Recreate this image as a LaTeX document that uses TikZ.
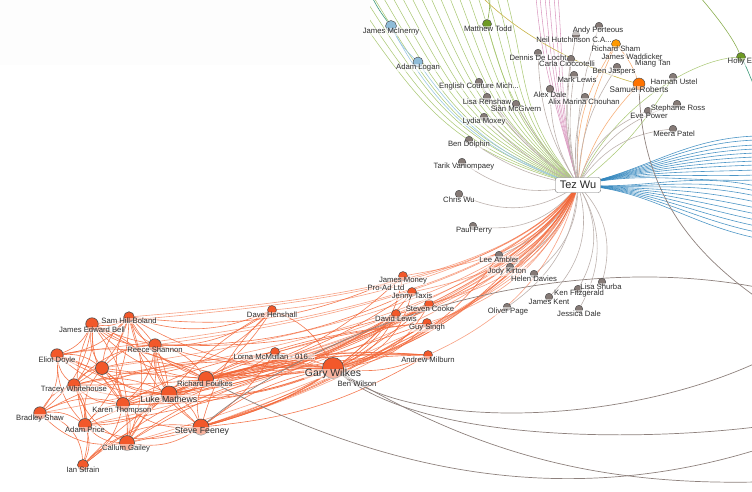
\documentclass[tikz,border=0pt]{standalone}
\usepackage{fontspec}
\setsansfont{Liberation Sans}
\pgfdeclarelayer{bg}
\pgfsetlayers{bg,main}
\definecolor{orn}{HTML}{F2582A}
\definecolor{oedge}{HTML}{F26536}
\definecolor{gedge}{HTML}{A3C46A}
\definecolor{bedge}{HTML}{2F84BC}
\definecolor{lbedge}{HTML}{9CC8E2}
\definecolor{gryedge}{HTML}{BDB2AE}
\definecolor{dgry}{HTML}{8E817D}
\definecolor{pedge}{HTML}{DB9CC2}
\definecolor{lorn}{HTML}{F7B07A}
\definecolor{gfill}{HTML}{857A76}
\definecolor{olv}{HTML}{C9B448}
\definecolor{grn}{HTML}{6E9A24}
\definecolor{teal}{HTML}{3F9A7A}
\definecolor{bfill}{HTML}{8FBCD8}
\begin{document}
\begin{tikzpicture}[x=1pt,y=-1pt,
 lbl/.style={font=\sffamily\fontsize{7.7}{8}\selectfont, text=black!82, fill=white, fill opacity=0.55, text opacity=1, inner sep=0.5pt},
 lblb/.style={lbl, font=\sffamily\fontsize{8.8}{9}\selectfont},
 gn/.style={circle, inner sep=0, minimum size=7.5pt, draw=black!70, line width=0.45pt, fill=gfill},
 on/.style={gn, fill=orn, minimum size=9pt},
 cn/.style={gn, fill=orn, minimum size=12.5pt, line width=0.6pt},
 oe/.style={draw=oedge, line width=0.62pt, opacity=0.85},
 ge/.style={draw=gedge, line width=0.55pt, opacity=0.9},
 be/.style={draw=bedge, line width=0.6pt, opacity=0.85},
 lbe/.style={draw=lbedge, line width=0.6pt},
 ye/.style={draw=gryedge, line width=0.6pt},
 de/.style={draw=dgry, line width=0.7pt},
 pe/.style={draw=pedge, line width=0.55pt},
 le/.style={draw=lorn, line width=0.6pt},
]
\useasboundingbox (0,0) rectangle (752,491);
\clip (0,0) rectangle (752,491);
\fill[black!0.8] (0,0) rectangle (370,65);

% ---------- node circles ----------
\node[gn] (dl) at (538,53) {};
\node[gn] (ecm) at (479,82) {};
\node[gn] (lr) at (487,97) {};
\node[gn] (smg) at (516,104) {};
\node[gn] (lmx) at (484,117) {};
\node[gn] (bd) at (469,140) {};
\node[gn] (ap2) at (599,26) {};
\node[gn] (nh) at (576,35) {};
\node[gn] (cc) at (571,59) {};
\node[gn] (bj) at (617,67) {};
\node[gn] (mlw) at (574,75) {};
\node[gn] (ad) at (550,89) {};
\node[gn] (amc) at (585,97) {};
\node[gn] (hu) at (673,77) {};
\node[gn] (sr) at (677,104) {};
\node[gn] (ep) at (648,111) {};
\node[gn] (mp) at (673,129) {};
\node[gn] (tv) at (462,162) {};
\node[gn] (cw) at (459,194) {};
\node[gn] (pp) at (473,226) {};
\node[gn] (la) at (499,255) {};
\node[gn] (jk) at (510,267) {};
\node[gn] (hd) at (534,274) {};
\node[gn] (ls) at (602,282) {};
\node[gn] (kf) at (578,289) {};
\node[gn] (jke) at (549,297) {};
\node[gn] (op) at (507,307) {};
\node[gn] (jd) at (579,309) {};
\node[gn, fill=bfill, minimum size=11pt] (jmc) at (391,26) {};
\node[gn, fill=bfill, minimum size=10pt] (alg) at (418,62) {};
\node[gn, fill=grn, minimum size=9pt] (mt) at (487,24) {};
\node[gn, fill=grn, minimum size=9pt] (he) at (741,57) {};
\node[gn, fill=orange!80!yellow, minimum size=9pt] (rsh) at (616,44) {};
\node[gn, fill=orange!90!red, minimum size=12pt] (srb) at (639,84) {};
\node[on] (jmo) at (403,276) {};
\node[on] (jt) at (412,292) {};
\node[on] (sc) at (429,304) {};
\node[on] (dlw) at (396,314) {};
\node[on] (gs) at (427,323) {};
\node[on] (am) at (428,355) {};
\node[on] (dh) at (272,310) {};
\node[on] (lmm) at (275,352) {};
\node[cn, minimum size=21pt] (gw) at (333,368) {};
\node[cn, minimum size=10.5pt] (shb) at (129,317) {};
\node[cn] (jeb) at (92,324) {};
\node[cn] (rsn) at (155,345) {};
\node[cn] (edy) at (57,355) {};
\node[cn, minimum size=13pt] (unk) at (102,368) {};
\node[cn] (twh) at (74,385) {};
\node[cn, minimum size=15pt] (rf) at (206,379) {};
\node[cn, minimum size=16pt] (lmt) at (169,394) {};
\node[cn, minimum size=13pt] (kt) at (123,404) {};
\node[cn] (bs) at (40,413) {};
\node[cn, minimum size=13pt] (apr) at (85,425) {};
\node[cn, minimum size=16pt] (sf) at (201,427) {};
\node[cn, minimum size=15pt] (cg) at (127,443) {};
\node[cn, minimum size=11pt] (ist) at (83,465) {};
\node[draw=black!55, fill=white, rounded corners=2.5pt, font=\sffamily\fontsize{11}{12}\selectfont, text=black!85, inner xsep=4.5pt, inner ysep=1.5pt, minimum height=15pt] (tez) at (578,185) {Tez Wu};

% ---------- edges ----------
\begin{pgfonlayer}{bg}
% green from top
\foreach \k in {0,...,17} {
  \pgfmathsetmacro\xx{345+\k*9.5}
  \pgfmathsetmacro\oo{-55-\k*1.2}
  \pgfmathsetmacro\ii{165-\k*2}
  \coordinate (gt\k) at (\xx,-3);
  \draw[ge] (gt\k) to[out=\oo, in=\ii, looseness=1.15] (tez.center);
}
\coordinate (gtm) at (490,-3);
\draw[ge, draw=grn] (gtm) to[bend left=5] (mt);
\draw[ge] (mt) to[bend right=15] (tez.center);
% pink from top
\foreach \x in {536,540,545,549,554,558} {
  \coordinate (pk\x) at (\x,-3);
  \draw[pe] (pk\x) to[out=-85, in=105] (tez.center);
}
% light blue / teal
\coordinate (jtop) at (372,-3);
\draw[draw=teal, line width=0.6pt] (jtop) to[bend right=5] (jmc);
\draw[lbe] (jmc) to[bend right=10] (alg);
\draw[lbe] (alg) to[bend right=18] (tez.center);
\draw[lbe] (jmc) to[bend right=22] (tez.center);
% olive
\coordinate (ot) at (482,-3);
\draw[draw=olv, line width=0.6pt] (ot) .. controls (525,40) and (590,70) .. (srb);
% holly
\coordinate (ht) at (700,-3);
\coordinate (hb) at (758,95);
\draw[draw=grn!80, line width=0.6pt] (ht) .. controls (718,18) and (733,38) .. (he);
\draw[draw=teal, line width=0.6pt] (he) .. controls (748,70) and (752,82) .. (hb);
\draw[ge] (he) .. controls (690,60) and (610,110) .. (tez.center);
% light orange
\draw[le] (rsh) to[bend right=10] (tez.center);
\draw[le] (rsh) to[bend right=18] (tez.center);
\draw[le] (rsh) to[bend left=10] (srb);
\draw[le] (srb) to[bend right=12] (tez.center);
\draw[ge] (hu) to[bend left=10] (tez.center);
% blue to right
\foreach \y in {136,140,145,149,153,157,161,165,170,175,180} {
  \coordinate (bu\y) at (756,\y);
  \draw[be] (tez.center) to[out=12, in=182] (bu\y);
}
\foreach \y in {186,191,196,202,208,214,220,226,232,238} {
  \coordinate (bl\y) at (756,\y);
  \draw[be] (tez.center) to[out=-4, in=168] (bl\y);
}
% gray to tez
\foreach \n/\b in {tv/25, cw/30, pp/30, bd/12, lmx/10, smg/8, ecm/10, lr/10, ad/15, amc/12, dl/15, cc/12, mlw/10, nh/12, ap2/10, bj/15, ep/25, sr/22, mp/25, la/20, jk/20, hd/25, ls/30, kf/30, jke/30, op/25, jd/30}
  \draw[ye] (tez.center) to[bend left=\b] (\n);
% orange fan from tez
\foreach \n/\o/\i/\l in {gw/-112/18/0.8, gw/-118/12/0.8, gw/-105/25/0.9, jmo/-120/10/1, jt/-115/12/1, sc/-108/15/1, dlw/-118/15/1, gs/-110/18/1, am/-105/25/1, dh/-125/5/0.7, lmm/-120/12/0.7, rf/-120/10/0.7, rf/-112/14/0.7, lmt/-118/10/0.7, lmt/-110/16/0.7, sf/-112/15/0.7, sf/-106/20/0.7, kt/-120/10/0.7, cg/-110/16/0.7, rsn/-122/8/0.7, shb/-125/5/0.7, jeb/-125/6/0.7, unk/-120/8/0.7, twh/-118/10/0.7, apr/-115/12/0.7, la/-125/35/1, jk/-118/40/1, edy/-124/8/0.7, bs/-120/10/0.7}
  \draw[oe, opacity=0.6] (tez.center) to[out=\o, in=\i, looseness=\l] (\n);
% cluster mesh
\foreach \a/\b/\d in {shb/jeb/20, shb/rsn/-20, shb/edy/20, shb/unk/-20, shb/twh/20, shb/rf/-20, shb/lmt/20, shb/kt/-20, shb/apr/20, shb/sf/-20, shb/cg/20,
 jeb/rsn/-20, jeb/edy/20, jeb/unk/-20, jeb/twh/20, jeb/rf/-20, jeb/lmt/20, jeb/kt/-20, jeb/bs/20, jeb/apr/-20, jeb/cg/20,
 rsn/unk/-20, rsn/rf/20, rsn/lmt/-20, rsn/kt/20, rsn/sf/-20, rsn/cg/20, rsn/twh/-20,
 edy/unk/20, edy/twh/-20, edy/bs/20, edy/apr/-20, edy/kt/20, edy/lmt/-20, edy/rf/20,
 unk/twh/-20, unk/kt/20, unk/lmt/-20, unk/rf/20, unk/apr/-20, unk/cg/20,
 twh/bs/-20, twh/apr/20, twh/kt/-20, twh/lmt/20, twh/cg/-20, twh/ist/20, twh/rf/-20,
 rf/lmt/20, rf/sf/-20, rf/kt/20, rf/cg/-20,
 lmt/kt/-20, lmt/sf/20, lmt/cg/-20, lmt/apr/20,
 kt/apr/-20, kt/cg/20, kt/sf/-20, kt/ist/20, kt/bs/-20,
 bs/apr/20, bs/cg/-25, bs/ist/35,
 apr/cg/-20, apr/ist/20, apr/sf/-20,
 sf/cg/20, cg/ist/-20, sf/ist/-25}
  \draw[oe] (\a) to[bend left=\d] (\b);
% cluster to middle
\foreach \a/\b/\d in {rf/gw/10, lmt/gw/-12, sf/gw/12, kt/gw/-10, cg/gw/15, rsn/gw/-8, shb/gw/-15, jeb/gw/-20, unk/gw/-8, twh/gw/10, apr/gw/12, ist/gw/25, edy/gw/-25, bs/gw/18,
 rf/dlw/-10, rf/sc/-12, rf/gs/8, rf/am/10, rf/jmo/-15, rf/jt/-10,
 lmt/dlw/-12, lmt/sc/-8, lmt/am/12, lmt/gs/10,
 sf/dlw/-15, sf/sc/-10, sf/gs/-8, sf/am/-12, sf/jt/-18,
 kt/am/10, cg/am/15, cg/gs/-10, rsn/sc/-10, rsn/jt/-12, shb/jmo/-15, kt/sc/-10, apr/dlw/-12, ist/am/20, twh/gs/-10,
 shb/dh/-20, jeb/dh/-30, edy/dh/-35, dh/sf/-15, dh/lmt/-10, dh/rf/10, lmm/rf/-10, lmm/gw/5, lmm/lmt/12, lmm/sf/10, lmm/kt/-10,
 gw/dlw/-20, gw/sc/-25, gw/gs/-20, gw/am/-15, gw/jmo/-25, gw/jt/-30, gw/la/-20, gw/jk/-15, gw/dh/-20}
  \draw[oe] (\a) to[bend left=\d] (\b);
% dark gray long arcs
\coordinate (e1) at (756,297);
\coordinate (e2) at (756,287);
\coordinate (e3) at (756,363);
\coordinate (e4) at (756,427);
\coordinate (e5) at (756,482);
\coordinate (e6) at (756,450);
\draw[de] (srb) .. controls (642,190) and (690,250) .. (e1);
\draw[de] (sf) .. controls (330,320) and (560,250) .. (e2);
\draw[de] (gw) .. controls (420,430) and (620,425) .. (e3);
\draw[de] (gw) .. controls (430,445) and (650,440) .. (e4);
\draw[de] (gw) .. controls (480,455) and (600,485) .. (e5);
\draw[de] (rf) .. controls (380,470) and (560,510) .. (e6);
\end{pgfonlayer}

% ---------- labels ----------
\node[lbl] (dl-t) at (538,57.5) {Dennis De Locht};
\node[lbl] (ecm-t) at (479,87) {English Couture Mich...};
\node[lbl] (lr-t) at (487,101.5) {Lisa Renshaw};
\node[lbl] (smg-t) at (516,109) {Siân McGivern};
\node[lbl] (lmx-t) at (484,121.5) {Lydia Moxey};
\node[lbl] (bd-t) at (469,145) {Ben Dolphin};
\node[lbl] (ap2-t) at (598,31) {Andy Porteous};
\node[lbl] (nh-t) at (574,40) {Neil Hutchinson C.A...};
\node[lbl] (cc-t) at (567,64) {Carla Cioccotelli};
\node[lbl] (jw-t) at (632,57) {James Waddicker};
\node[lbl] (mtn-t) at (653,63.5) {Miang Tan};
\node[lbl] (bj-t) at (614,72) {Ben Jaspers};
\node[lbl] (mlw-t) at (577,79.5) {Mark Lewis};
\node[lbl] (ad-t) at (550,95) {Alex Dale};
\node[lbl] (amc-t) at (584,101.5) {Alix Marina Chouhan};
\node[lbl] (hu-t) at (674,81.5) {Hannah Ustel};
\node[lbl] (sr-t) at (678,109) {Stephanie Ross};
\node[lbl] (ep-t) at (649,116) {Eve Power};
\node[lbl] (mp-t) at (674,134) {Meera Patel};
\node[lbl] (tv-t) at (464,167) {Tarik Vaniompaey};
\node[lbl] (cw-t) at (459,200) {Chris Wu};
\node[lbl] (pp-t) at (474,230.5) {Paul Perry};
\node[lbl] (la-t) at (499,259.5) {Lee Ambler};
\node[lbl] (jk-t) at (507,271.5) {Jody Kirton};
\node[lbl] (hd-t) at (534,278.5) {Helen Davies};
\node[lbl] (ls-t) at (601,286.5) {Lisa Shurba};
\node[lbl] (kf-t) at (579,294) {Ken Fitzgerald};
\node[lbl] (jke-t) at (549,302) {James Kent};
\node[lbl] (op-t) at (508,311.5) {Oliver Page};
\node[lbl] (jd-t) at (579,313.5) {Jessica Dale};
\node[lbl] (jmc-t) at (391,32) {James McInerny};
\node[lbl] (alg-t) at (418,68) {Adam Logan};
\node[lbl] (mt-t) at (488,29) {Matthew Todd};
\node[lbl, anchor=west] (he-t) at (727,62) {Holly Eldr};
\node[lbl] (rsh-t) at (616,49) {Richard Sham};
\node[lbl, font=\sffamily\fontsize{8.2}{9}\selectfont] (srb-t) at (639,90) {Samuel Roberts};
\node[lbl] (jmo-t) at (403,281) {James Money};
\node[lbl] (pad-t) at (386,288) {Pro-Ad Ltd};
\node[lbl] (jt-t) at (412,297) {Jenny Taxis};
\node[lbl] (sc-t) at (430,309) {Steven Cooke};
\node[lbl] (dlw-t) at (396,319) {David Lewis};
\node[lbl] (gs-t) at (427,328) {Guy Singh};
\node[lbl] (am-t) at (428,359.5) {Andrew Milburn};
\node[lbl] (dh-t) at (272,315) {Dave Henshall};
\node[lbl] (lmm-t) at (274,357) {Lorna McMullan - 016...};
\node[lbl, font=\sffamily\fontsize{10.4}{11}\selectfont] (gw-t) at (333,374) {Gary Wilkes};
\node[lbl] (bw-t) at (357,384) {Ben Wilson};
\node[lbl] (shb-t) at (129,321) {Sam Hill-Boland};
\node[lbl] (jeb-t) at (92,330) {James Edward Bell};
\node[lbl] (rsn-t) at (155,350) {Reece Shannon};
\node[lbl] (edy-t) at (57,361) {Eliot Doyle};
\node[lbl] (twh-t) at (74,390) {Tracey Whitehouse};
\node[lbl] (rf-t) at (205,384) {Richard Foulkes};
\node[lblb] (lmt-t) at (169,399) {Luke Mathews};
\node[lbl] (kt-t) at (122,410) {Karen Thompson};
\node[lbl] (bs-t) at (40,418) {Bradley Shaw};
\node[lbl] (apr-t) at (85,430) {Adam Price};
\node[lblb] (sf-t) at (202,431) {Steve Feeney};
\node[lbl] (cg-t) at (126,448) {Callum Gailey};
\node[lbl] (ist-t) at (83,470) {Ian Strain};
\end{tikzpicture}
\end{document}
